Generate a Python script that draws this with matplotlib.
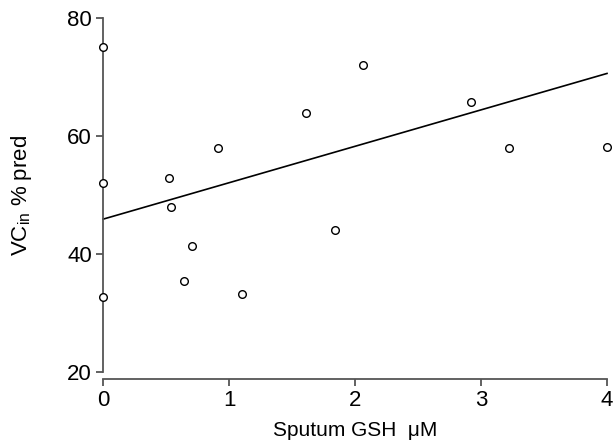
import numpy as np
import matplotlib.pyplot as plt

plt.rcParams['font.family'] = ['Liberation Sans', 'DejaVu Sans']
plt.rcParams['mathtext.fontset'] = 'custom'
plt.rcParams['mathtext.rm'] = 'Liberation Sans'

# sputum GSH (uM) vs VCin % predicted
gsh = [0, 0, 0, 0.52, 0.54, 0.64, 0.71, 0.91, 1.10, 1.61, 1.84, 2.06, 2.92, 3.22, 4.0]
vc = [75.1, 52.0, 32.7, 52.8, 47.9, 35.5, 41.3, 58.0, 33.2, 63.9, 44.0, 72.0, 65.8, 57.9, 58.2]

fit_x = [0, 4]
fit_y = [45.9, 70.6]

xticks = [0, 1, 2, 3, 4]
yticks = [20, 40, 60, 80]

fig = plt.figure(figsize=(6.14, 4.43), dpi=100)
ax = fig.add_axes([0.1678, 0.1603, 0.8208, 0.7991])

ax.plot(fit_x, fit_y, color='black', lw=1.2, clip_on=False)
ax.plot(gsh, vc, 'o', ms=5.5, mfc='white', mec='black', mew=1.0, clip_on=False, zorder=3)

ax.set_xlim(0, 4)
ax.set_ylim(20, 80)
ax.set_xticks(xticks)
ax.set_yticks(yticks)

for s in ['top', 'right']:
    ax.spines[s].set_visible(False)
for s in ['left', 'bottom']:
    ax.spines[s].set_color('#555555')
    ax.spines[s].set_linewidth(1.3)
ax.spines['bottom'].set_position(('outward', 5))
ax.tick_params(axis='both', direction='out', length=5, width=1.3, color='#555555',
               labelsize=16, pad=3)

ax.set_xlabel('Sputum GSH  μM', fontsize=15, labelpad=7)
ax.set_ylabel(r'VC$_{\mathrm{in}}$ % pred', fontsize=16, labelpad=24)

fig.savefig('out.png', dpi=100)
